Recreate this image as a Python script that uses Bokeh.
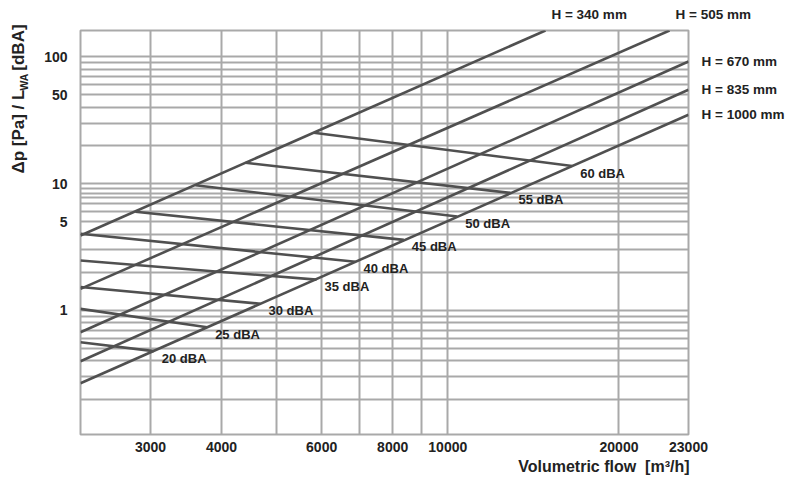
import numpy as np
from bokeh.plotting import figure
from bokeh.models import FixedTicker, Label, ColumnDataSource, Range1d, LogAxis, Title
from bokeh.core.properties import value
from bokeh.embed import file_html
from bokeh.resources import INLINE

# ---------------- data ----------------
x_min, x_max = 2260, 26500          # volumetric flow range of the frame
y_min, y_max = 0.1053, 161          # pressure range of the frame

x_label_ticks = [3000, 4000, 6000, 8000, 10000, 20000, 26500]
x_tick_labels = ["3000", "4000", "6000", "8000", "10000", "20000", "23000"]
x_grid = [3000, 4000, 5000, 6000, 7000, 8000, 9000, 10000, 20000]

y_label_ticks = [1, 5, 10, 50, 100]
y_tick_labels = ["1", "5", "10", "50", "100"]
y_grid = [0.2, 0.3, 0.4, 0.5, 0.6, 0.7, 0.8, 0.9, 1,
          2, 3, 4, 5, 6, 7, 7.75, 8.4, 9.1, 10,
          20, 30, 40, 50, 60, 70, 80, 90, 100]

# duct height lines (start / end points)
h_names = ["H = 340 mm", "H = 505 mm", "H = 670 mm", "H = 835 mm", "H = 1000 mm"]
h_q0 = [2260, 2260, 2260, 2260, 2260]
h_p0 = [3.9, 1.48, 0.674, 0.398, 0.267]
h_q1 = [14850, 24540, 26500, 26500, 26500]
h_p1 = [161, 161, 91.8, 54.9, 34.9]

# sound power level lines
db_names = ["60 dBA", "55 dBA", "50 dBA", "45 dBA", "40 dBA",
            "35 dBA", "30 dBA", "25 dBA", "20 dBA"]
db_q0 = [5812, 4408, 3600, 2823, 2260, 2260, 2260, 2260, 2260]
db_p0 = [25.2, 14.6, 9.7, 6.0, 4.02, 2.48, 1.53, 1.03, 0.562]
db_q1 = [16547, 12890, 10390, 8368, 6881, 5876, 4684, 3774, 3040]
db_p1 = [13.75, 8.45, 5.5, 3.6, 2.42, 1.75, 1.13, 0.737, 0.478]

x_title = "Volumetric flow\u00a0\u00a0[m³/h]"
y_title = "Δp [Pa] / L\u00a0\u00a0\u00a0\u00a0[dBA]"   # gap keeps room for the subscript
y_title_sub = "WA"

# ---------------- figure ----------------
FONT = "Liberation Sans"
GRID = "#a9a9a9"
LINE = "#505050"
TXT = "#222222"

p = figure(width=792, height=480, x_axis_type="log", y_axis_type="log",
           x_range=Range1d(x_min, x_max), y_range=Range1d(y_min, y_max),
           output_backend="svg", toolbar_location=None,
           min_border_left=80, min_border_right=104,
           min_border_top=30, min_border_bottom=46)

p.outline_line_color = GRID
p.outline_line_width = 2
p.background_fill_color = "white"
p.border_fill_color = "white"

p.xaxis.ticker = FixedTicker(ticks=x_label_ticks)
p.xaxis.major_label_overrides = dict(zip(x_label_ticks, x_tick_labels))
p.yaxis.ticker = FixedTicker(ticks=y_label_ticks)
p.yaxis.major_label_overrides = dict(zip(y_label_ticks, y_tick_labels))
p.xgrid.ticker = FixedTicker(ticks=x_grid)
p.ygrid.ticker = FixedTicker(ticks=y_grid)

for g in (p.xgrid, p.ygrid):
    g.grid_line_color = GRID
    g.grid_line_width = 2


def style_axis(ax, size="14px"):
    ax.axis_line_color = None
    ax.major_tick_line_color = None
    ax.minor_tick_line_color = None
    ax.major_tick_out = 0
    ax.major_label_text_font = FONT
    ax.major_label_text_font_size = size
    ax.major_label_text_font_style = "bold"
    ax.major_label_text_color = TXT


for ax in (p.xaxis, p.yaxis):
    style_axis(ax)
p.xaxis.major_label_standoff = 7
p.yaxis.major_label_standoff = 13

h_src = ColumnDataSource(dict(x0=h_q0, y0=h_p0, x1=h_q1, y1=h_p1))
db_src = ColumnDataSource(dict(x0=db_q0, y0=db_p0, x1=db_q1, y1=db_p1, name=db_names))

p.segment(x0="x0", y0="y0", x1="x1", y1="y1", source=h_src,
          line_color=LINE, line_width=2.6)
p.segment(x0="x0", y0="y0", x1="x1", y1="y1", source=db_src,
          line_color=LINE, line_width=2.6)

p.text(x="x1", y="y1", text="name", source=db_src, x_offset=8, y_offset=7,
       text_font=value(FONT), text_font_style="bold", text_font_size="13px",
       text_color=TXT, text_align="left", text_baseline="middle")

# H labels of lines leaving through the right edge: a right-hand axis
right_ticks = [pv for qv, pv in zip(h_q1, h_p1) if pv < y_max]
right_names = [n for n, pv in zip(h_names, h_p1) if pv < y_max]
rax = LogAxis(ticker=FixedTicker(ticks=right_ticks),
              major_label_overrides=dict(zip(right_ticks, right_names)))
style_axis(rax, "13.5px")
rax.major_label_standoff = 13
p.add_layout(rax, "right")

# H labels of lines leaving through the top edge
for name, q1, p1 in zip(h_names, h_q1, h_p1):
    if p1 >= y_max:
        p.add_layout(Label(x=q1, y=p1, text=name, x_offset=6, y_offset=16,
                           text_font=FONT, text_font_style="bold",
                           text_font_size="13.5px", text_color=TXT,
                           text_align="left", text_baseline="middle"), "above")

# x axis title
p.add_layout(Title(text=x_title, align="right", standoff=3, offset=-1,
                   text_font=FONT, text_font_style="bold", text_font_size="16px",
                   text_color=TXT), "below")

# y axis title (with subscript), anchored at the lower-left of the frame
p.add_layout(Label(x=x_min, y=12.0, text=y_title, x_offset=-62, angle=np.pi / 2,
                   text_font=FONT, text_font_style="bold", text_font_size="17px",
                   text_color=TXT, text_align="left", text_baseline="middle"), "left")
p.add_layout(Label(x=x_min, y=54.2, text=y_title_sub, x_offset=-57, angle=np.pi / 2,
                   text_font=FONT, text_font_style="bold", text_font_size="10.5px",
                   text_color=TXT, text_align="left", text_baseline="middle"), "left")

open("out.html", "w").write(file_html(p, INLINE))
